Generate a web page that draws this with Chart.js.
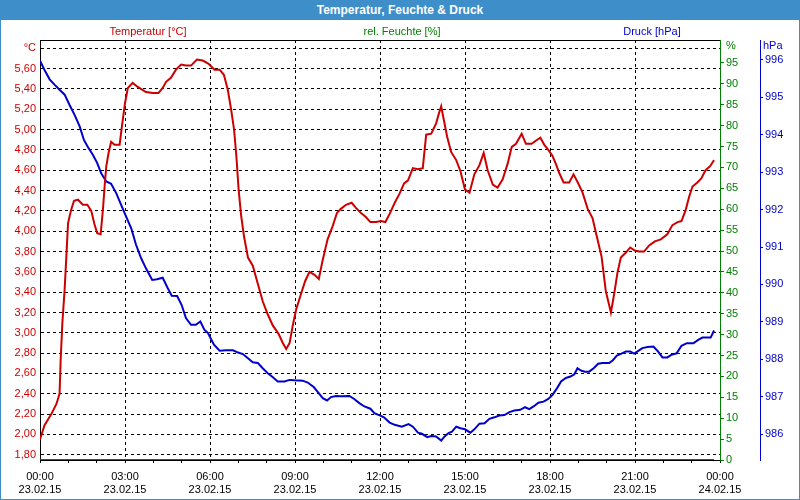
<!DOCTYPE html>
<html>
<head>
<meta charset="utf-8">
<script src="https://cdn.jsdelivr.net/npm/chart.js@4/dist/chart.umd.min.js"></script>
<style>
  html, body { margin: 0; padding: 0; background: #fff; }
  #wrap { position: relative; width: 800px; height: 500px; overflow: hidden; font-family: "Liberation Sans", Arial, sans-serif; }
  #chart { position: absolute; left: 0; top: 0; }
  #title { position: absolute; left: 0; top: 0; width: 800px; height: 20px; background: #3d8ec9; color: #fff;
           font-weight: bold; font-size: 12px; line-height: 20px; text-align: center; }
  #border { position: absolute; left: 0; top: 0; width: 800px; height: 500px; box-sizing: border-box;
            border: 1px solid #3d8ec9; pointer-events: none; }
  .cap { position: absolute; top: 24px; width: 200px; text-align: center; font-size: 11px; line-height: 14px; }
</style>
</head>
<body>
<div id="wrap">
  <canvas id="chart" width="800" height="500"></canvas>
  <div id="title">Temperatur, Feuchte &amp; Druck</div>
  <div class="cap" style="left:48px;color:#cc0000">Temperatur [°C]</div>
  <div class="cap" style="left:302px;color:#008000">rel. Feuchte [%]</div>
  <div class="cap" style="left:552px;color:#0000cc">Druck [hPa]</div>
  <div id="border"></div>
</div>
<script>
// hours since 23.02.15 00:00
const TEMP_HOURS = [0.00, 0.16, 0.40, 0.58, 0.69, 0.73, 0.79, 0.87, 0.93, 0.99, 1.10, 1.20, 1.34, 1.51, 1.67, 1.81, 1.92, 2.02, 2.14, 2.22,
  2.28, 2.34, 2.42, 2.51, 2.63, 2.81, 2.89, 3.00, 3.10, 3.27, 3.45, 3.74, 3.98, 4.18, 4.33, 4.45, 4.62, 4.80, 4.98, 5.15,
  5.33, 5.54, 5.74, 5.94, 6.16, 6.34, 6.49, 6.63, 6.75, 6.85, 6.93, 7.01, 7.10, 7.20, 7.34, 7.51, 7.69, 7.86, 8.04, 8.22,
  8.42, 8.57, 8.69, 8.81, 8.92, 9.04, 9.22, 9.36, 9.51, 9.69, 9.84, 9.98, 10.15, 10.33, 10.48, 10.62, 10.80, 11.00, 11.15, 11.33,
  11.50, 11.66, 11.86, 12.03, 12.19, 12.34, 12.52, 12.69, 12.85, 12.99, 13.16, 13.34, 13.51, 13.63, 13.81, 13.98, 14.07, 14.16, 14.25, 14.37,
  14.51, 14.69, 14.84, 15.00, 15.16, 15.33, 15.51, 15.66, 15.80, 15.98, 16.15, 16.33, 16.51, 16.65, 16.80, 17.00, 17.15, 17.35, 17.50, 17.66,
  17.80, 17.94, 18.09, 18.21, 18.33, 18.48, 18.68, 18.83, 19.00, 19.15, 19.33, 19.50, 19.65, 19.82, 19.97, 20.15, 20.27, 20.38, 20.50, 20.68,
  20.83, 20.99, 21.15, 21.32, 21.50, 21.70, 21.91, 22.14, 22.32, 22.50, 22.64, 22.79, 22.91, 23.03, 23.20, 23.34, 23.49, 23.65, 23.79];
const TEMP_VALUES = [1.95, 2.09, 2.20, 2.30, 2.40, 2.74, 3.10, 3.43, 3.75, 4.08, 4.21, 4.30, 4.31, 4.26, 4.26, 4.20, 4.07, 3.98, 3.97, 4.21,
  4.44, 4.64, 4.77, 4.88, 4.85, 4.85, 5.03, 5.26, 5.41, 5.46, 5.42, 5.37, 5.36, 5.36, 5.41, 5.47, 5.51, 5.59, 5.64, 5.63,
  5.63, 5.69, 5.68, 5.65, 5.59, 5.59, 5.54, 5.39, 5.19, 5.00, 4.74, 4.41, 4.15, 3.95, 3.74, 3.66, 3.48, 3.31, 3.18, 3.07,
  2.99, 2.90, 2.84, 2.90, 3.07, 3.23, 3.39, 3.51, 3.60, 3.57, 3.53, 3.72, 3.92, 4.05, 4.18, 4.22, 4.26, 4.28, 4.23, 4.18,
  4.14, 4.09, 4.09, 4.10, 4.09, 4.17, 4.28, 4.37, 4.47, 4.50, 4.62, 4.61, 4.62, 4.95, 4.96, 5.06, 5.15, 5.23, 5.10, 4.93,
  4.78, 4.70, 4.59, 4.41, 4.38, 4.56, 4.65, 4.77, 4.60, 4.46, 4.43, 4.51, 4.67, 4.83, 4.86, 4.96, 4.86, 4.86, 4.89, 4.92,
  4.85, 4.80, 4.74, 4.66, 4.57, 4.48, 4.48, 4.56, 4.47, 4.38, 4.22, 4.13, 3.95, 3.75, 3.41, 3.20, 3.39, 3.59, 3.74, 3.79,
  3.84, 3.81, 3.80, 3.80, 3.86, 3.90, 3.92, 3.97, 4.06, 4.09, 4.10, 4.21, 4.34, 4.44, 4.48, 4.52, 4.60, 4.64, 4.70];

const PRES_HOURS = [0.00, 0.16, 0.34, 0.52, 0.69, 0.87, 1.04, 1.22, 1.40, 1.55, 1.69, 1.87, 2.02, 2.16, 2.34, 2.51, 2.69, 2.86, 3.04, 3.22,
  3.39, 3.57, 3.74, 3.96, 4.13, 4.33, 4.51, 4.65, 4.84, 5.00, 5.15, 5.33, 5.50, 5.66, 5.80, 5.93, 6.03, 6.14, 6.34, 6.58,
  6.81, 6.99, 7.16, 7.34, 7.51, 7.69, 7.86, 8.04, 8.22, 8.39, 8.63, 8.81, 8.98, 9.27, 9.45, 9.66, 9.83, 9.98, 10.13, 10.27,
  10.45, 10.62, 10.92, 11.09, 11.27, 11.45, 11.66, 11.80, 12.03, 12.14, 12.34, 12.52, 12.77, 13.01, 13.16, 13.34, 13.48, 13.67, 13.81, 13.98,
  14.16, 14.28, 14.42, 14.54, 14.69, 14.84, 15.00, 15.19, 15.33, 15.51, 15.69, 15.86, 16.04, 16.21, 16.39, 16.57, 16.74, 16.95, 17.12, 17.27,
  17.42, 17.59, 17.77, 17.94, 18.09, 18.25, 18.39, 18.56, 18.72, 18.86, 18.97, 19.09, 19.23, 19.38, 19.54, 19.70, 19.85, 20.09, 20.21, 20.36,
  20.52, 20.68, 20.83, 20.97, 21.09, 21.26, 21.44, 21.65, 21.79, 21.97, 22.14, 22.28, 22.47, 22.64, 22.83, 23.06, 23.23, 23.38, 23.67, 23.79];
const PRES_VALUES = [995.98, 995.73, 995.48, 995.33, 995.20, 995.07, 994.80, 994.53, 994.22, 993.86, 993.67, 993.46, 993.24, 992.97, 992.75, 992.69, 992.44, 992.13, 991.81, 991.50,
  991.06, 990.70, 990.43, 990.12, 990.14, 990.18, 989.90, 989.70, 989.69, 989.45, 989.10, 988.92, 988.92, 989.01, 988.79, 988.70, 988.55, 988.39, 988.23, 988.24,
  988.24, 988.18, 988.14, 988.03, 987.92, 987.90, 987.76, 987.63, 987.52, 987.41, 987.41, 987.45, 987.44, 987.43, 987.38, 987.26, 987.10, 986.96, 986.90, 986.99,
  987.02, 987.01, 987.02, 986.94, 986.83, 986.74, 986.68, 986.56, 986.49, 986.45, 986.31, 986.25, 986.20, 986.27, 986.20, 986.04, 986.01, 985.92, 985.95, 985.94,
  985.83, 985.94, 986.03, 986.07, 986.20, 986.16, 986.13, 986.04, 986.13, 986.28, 986.29, 986.41, 986.45, 986.50, 986.51, 986.59, 986.63, 986.65, 986.72, 986.67,
  986.74, 986.84, 986.87, 986.94, 987.05, 987.23, 987.41, 987.50, 987.54, 987.60, 987.76, 987.70, 987.67, 987.67, 987.76, 987.88, 987.90, 987.90, 987.97, 988.10,
  988.15, 988.21, 988.21, 988.15, 988.21, 988.30, 988.33, 988.34, 988.23, 988.05, 988.05, 988.12, 988.16, 988.36, 988.43, 988.43, 988.52, 988.58, 988.58, 988.77];

// humidity sensor reads 0 the whole day
const HUM_HOURS = [0.00, 23.79];
const HUM_VALUES = [0, 0];

const X_TIMES = ["00:00", "03:00", "06:00", "09:00", "12:00", "15:00", "18:00", "21:00", "00:00"];
const X_DATES = ["23.02.15", "23.02.15", "23.02.15", "23.02.15", "23.02.15", "23.02.15", "23.02.15", "23.02.15", "24.02.15"];
const TEMP_TICKS = [1.8, 2.0, 2.2, 2.4, 2.6, 2.8, 3.0, 3.2, 3.4, 3.6, 3.8, 4.0, 4.2, 4.4, 4.6, 4.8, 5.0, 5.2, 5.4, 5.6, 5.8];
const HUM_TICKS = [0, 5, 10, 15, 20, 25, 30, 35, 40, 45, 50, 55, 60, 65, 70, 75, 80, 85, 90, 95];
const PRES_TICKS = [986, 987, 988, 989, 990, 991, 992, 993, 994, 995, 996];

const RED = "#cc0000";
const GREEN = "#008000";
const BLUE = "#0000cc";
const FONT = { family: "'Liberation Sans', Arial, sans-serif", size: 11 };

function toPoints(xs, ys) {
    return xs.map((x, i) => ({ x, y: ys[i] }));
}

function fixedTicks(values) {
    return (scale) => { scale.ticks = values.map((v) => ({ value: v })); };
}

const unitLabels = {
    id: "unitLabels",
    afterDraw(chart) {
        const ctx = chart.ctx;
        const top = chart.chartArea.top;
        ctx.save();
        ctx.font = "11px " + FONT.family;
        ctx.textBaseline = "middle";
        ctx.textAlign = "left";
        ctx.fillStyle = GREEN;
        ctx.fillText("%", chart.scales.yHum.left + 6, top + 6);
        ctx.fillStyle = BLUE;
        ctx.fillText("hPa", chart.scales.yPres.left + 3, top + 6);
        ctx.restore();
    }
};

new Chart(document.getElementById("chart"), {
    type: "line",
    data: {
        datasets: [
            {
                label: "Temperatur [°C]",
                data: toPoints(TEMP_HOURS, TEMP_VALUES),
                yAxisID: "yTemp",
                borderColor: RED,
                borderWidth: 2,
                pointRadius: 0,
                tension: 0
            },
            {
                label: "Druck [hPa]",
                data: toPoints(PRES_HOURS, PRES_VALUES),
                yAxisID: "yPres",
                borderColor: BLUE,
                borderWidth: 2,
                pointRadius: 0,
                tension: 0
            },
            {
                label: "rel. Feuchte [%]",
                data: toPoints(HUM_HOURS, HUM_VALUES),
                yAxisID: "yHum",
                borderColor: GREEN,
                borderWidth: 2,
                pointRadius: 0,
                tension: 0
            }
        ]
    },
    plugins: [unitLabels],
    options: {
        responsive: false,
        animation: false,
        layout: { padding: { top: 40, left: 0, right: 2, bottom: 0 } },
        plugins: {
            legend: { display: false },
            tooltip: { enabled: false }
        },
        scales: {
            x: {
                type: "linear",
                position: "bottom",
                min: 0,
                max: 24,
                ticks: {
                    stepSize: 1,
                    autoSkip: false,
                    maxRotation: 0,
                    color: "#000",
                    font: FONT,
                    padding: 7,
                    callback: (v) => (v % 3 === 0 ? [X_TIMES[v / 3], X_DATES[v / 3]] : "")
                },
                grid: {
                    color: (c) => (c.tick && c.tick.value % 3 === 0 ? "#000" : "rgba(0,0,0,0)"),
                    tickColor: "#000",
                    tickLength: 3
                },
                border: { color: "#000", dash: [3, 3] },
                afterFit: (s) => { s.height = 40; }
            },
            xTop: {
                type: "linear",
                position: "top",
                min: 0,
                max: 24,
                ticks: { display: false },
                grid: { drawOnChartArea: false, drawTicks: false },
                border: { color: "#000" }
            },
            yTemp: {
                position: "left",
                min: 1.748,
                max: 5.882,
                afterBuildTicks: fixedTicks(TEMP_TICKS),
                ticks: {
                    color: RED,
                    font: FONT,
                    padding: 4,
                    callback: (v, i) => (i === TEMP_TICKS.length - 1 ? "°C" : v.toFixed(2).replace(".", ","))
                },
                grid: { color: "#000", drawTicks: false },
                border: { color: "#000", dash: [3, 3] },
                afterFit: (s) => { s.width = 40; }
            },
            yHum: {
                position: "right",
                weight: 1,
                min: 0,
                max: 100.5,
                afterBuildTicks: fixedTicks(HUM_TICKS),
                ticks: { color: GREEN, font: FONT, padding: 2 },
                grid: { drawOnChartArea: false, tickColor: GREEN, tickLength: 4 },
                border: { color: GREEN },
                afterFit: (s) => { s.width = 40; }
            },
            yPres: {
                position: "right",
                weight: 2,
                min: 985.31,
                max: 996.53,
                afterBuildTicks: fixedTicks(PRES_TICKS),
                ticks: { color: BLUE, font: FONT, padding: 2 },
                grid: { drawOnChartArea: false, tickColor: BLUE, tickLength: 3 },
                border: { color: BLUE },
                afterFit: (s) => { s.width = 38; }
            }
        }
    }
});
</script>
</body>
</html>
